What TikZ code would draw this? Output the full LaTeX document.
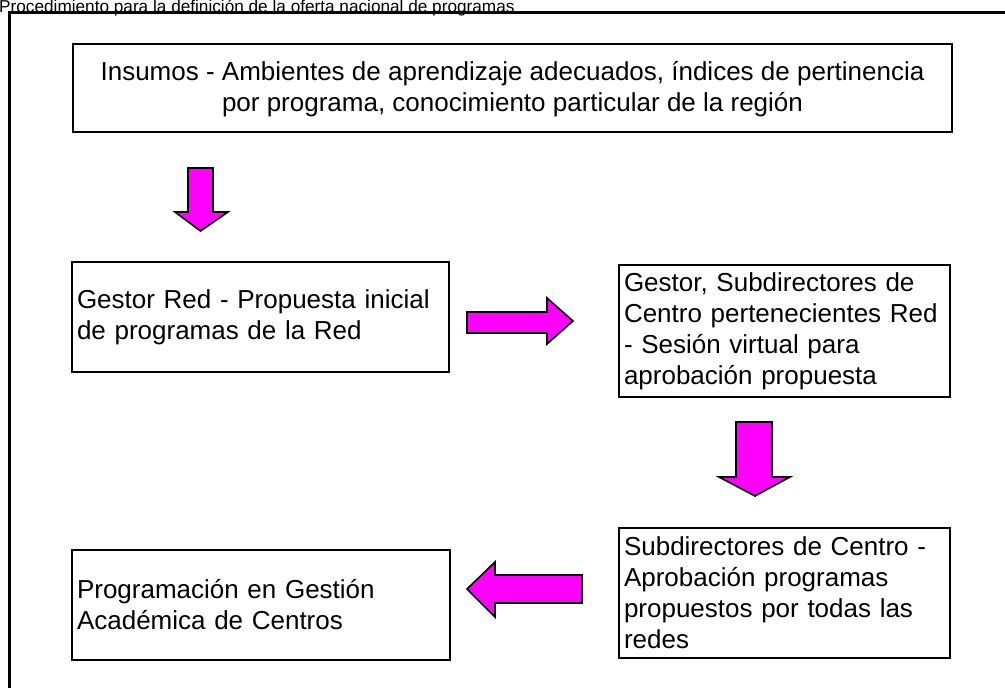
\documentclass[tikz,border=0pt]{standalone}
\usepackage{fontspec}
\setmainfont{Liberation Sans}
\definecolor{flecha}{RGB}{255,0,255}
\tikzset{
  caja/.style={draw, line width=2.5pt, inner sep=5pt, font=\fontsize{26}{31}\selectfont},
  flechabloque/.style={draw, fill=flecha, line width=1.6pt, line join=miter}
}
\begin{document}
\begin{tikzpicture}[x=1pt,y=-1pt]
  \useasboundingbox (0,0) rectangle (1005,688);
  \clip (0,0) rectangle (1005,688);

  % Marco y titulo
  \draw[line width=3pt] (9,700) -- (9,12) -- (1020,12);
  \node[anchor=base west, inner sep=0pt, font=\fontsize{17.2}{20}\selectfont] (titulo) at (-1,12.5)
    {Procedimiento para la definición de la oferta nacional de programas};

  % Insumos
  \node[caja, minimum width=879pt, minimum height=88pt, align=center, text depth=4pt] (insumos) at (512.5,88)
    {Insumos - Ambientes de aprendizaje adecuados, índices de pertinencia\\
     por programa, conocimiento particular de la región};

  % Propuesta de la red
  \node[caja, minimum width=377pt, minimum height=110pt, text width=367pt, align=left] (propuesta) at (260.5,317)
    {Gestor Red - Propuesta inicial\\ de programas de la Red};

  \node[caja, minimum width=331pt, minimum height=132pt, text width=321pt, align=left] (sesion) at (784.5,331)
    {Gestor, Subdirectores de\\ Centro pertenecientes Red\\ - Sesión virtual para\\ aprobación propuesta};

  % Aprobacion y programacion
  \node[caja, minimum width=331pt, minimum height=130pt, text width=321pt, align=left] (aprobacion) at (784.5,593)
    {Subdirectores de Centro -\\ Aprobación programas\\ propuestos por todas las\\ redes};

  \node[caja, minimum width=378pt, minimum height=110pt, text width=368pt, align=left] (programacion) at (261,605)
    {Programación en Gestión\\ Académica de Centros};

  % Flechas
  \draw[flechabloque] (188,168) -- (213,168) -- (213,212) -- (228,212) -- (200.5,231) -- (175,212) -- (188,212) -- cycle;
  \draw[flechabloque] (467,312) -- (547,312) -- (547,298) -- (573,321) -- (547,344) -- (547,333) -- (467,333) -- cycle;
  \draw[flechabloque] (736,422) -- (772,422) -- (772,477) -- (790,477) -- (755,496) -- (719,477) -- (736,477) -- cycle;
  \draw[flechabloque] (582,575) -- (495,575) -- (495,562) -- (467,589) -- (495,617) -- (495,603) -- (582,603) -- cycle;
\end{tikzpicture}
\end{document}
